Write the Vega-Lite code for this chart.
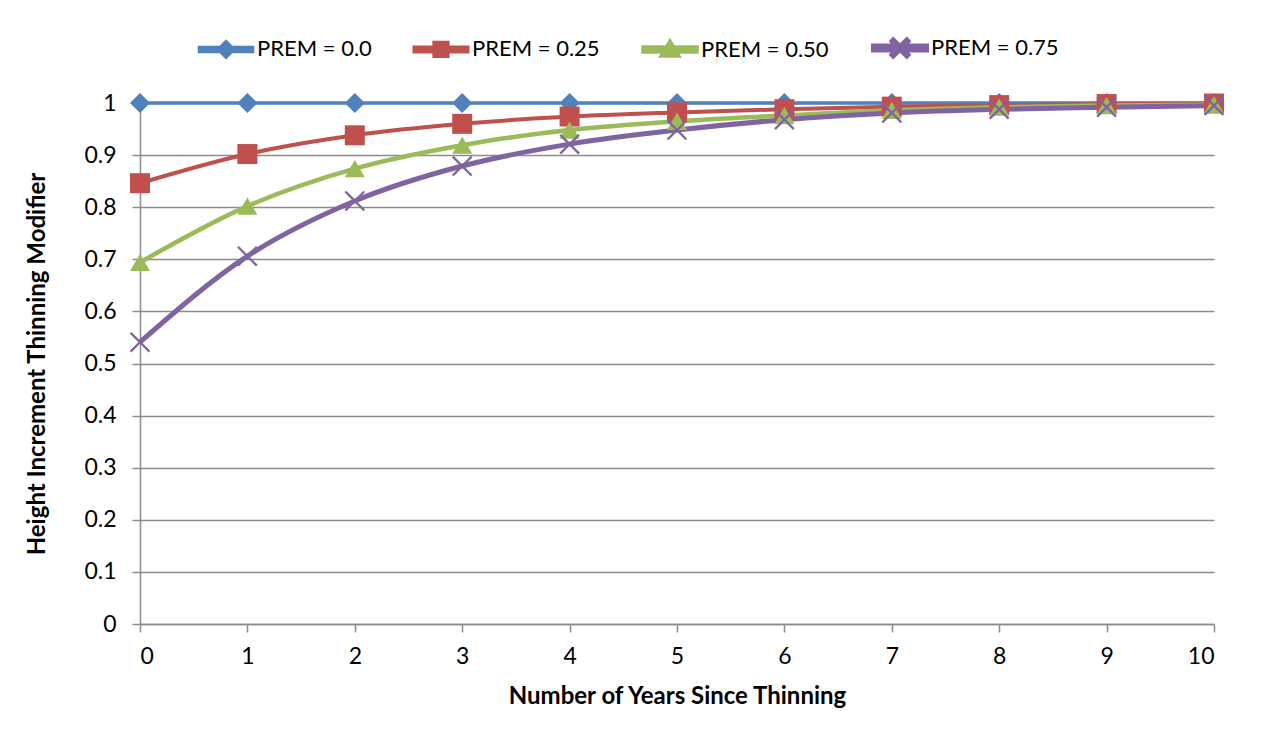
{
  "$schema": "https://vega.github.io/schema/vega-lite/v6.json",
  "autosize": "none",
  "width": 1074,
  "height": 521,
  "padding": {"left": 140, "top": 103, "right": 47, "bottom": 123},
  "background": "white",
  "config": {
    "view": {"stroke": null},
    "font": "Lato",
    "axis": {
      "labelFont": "Lato",
      "labelFontSize": 23,
      "labelColor": "#000000",
      "titleFont": "Lato",
      "titleFontSize": 24,
      "titleFontWeight": "bold",
      "titleColor": "#000000",
      "domainColor": "#8c8c8c",
      "domainWidth": 1.5,
      "tickColor": "#8c8c8c",
      "tickWidth": 1.5,
      "tickSize": 8,
      "gridColor": "#8c8c8c",
      "gridWidth": 1.5,
      "gridOpacity": 1
    }
  },
  "data": {
    "values": [
      {"years": 0, "series": "PREM = 0.0", "modifier": 1},
      {"years": 1, "series": "PREM = 0.0", "modifier": 1},
      {"years": 2, "series": "PREM = 0.0", "modifier": 1},
      {"years": 3, "series": "PREM = 0.0", "modifier": 1},
      {"years": 4, "series": "PREM = 0.0", "modifier": 1},
      {"years": 5, "series": "PREM = 0.0", "modifier": 1},
      {"years": 6, "series": "PREM = 0.0", "modifier": 1},
      {"years": 7, "series": "PREM = 0.0", "modifier": 1},
      {"years": 8, "series": "PREM = 0.0", "modifier": 1},
      {"years": 9, "series": "PREM = 0.0", "modifier": 1},
      {"years": 10, "series": "PREM = 0.0", "modifier": 1},
      {"years": 0, "series": "PREM = 0.25", "modifier": 0.846},
      {"years": 1, "series": "PREM = 0.25", "modifier": 0.902},
      {"years": 2, "series": "PREM = 0.25", "modifier": 0.938},
      {"years": 3, "series": "PREM = 0.25", "modifier": 0.960},
      {"years": 4, "series": "PREM = 0.25", "modifier": 0.974},
      {"years": 5, "series": "PREM = 0.25", "modifier": 0.982},
      {"years": 6, "series": "PREM = 0.25", "modifier": 0.988},
      {"years": 7, "series": "PREM = 0.25", "modifier": 0.993},
      {"years": 8, "series": "PREM = 0.25", "modifier": 0.996},
      {"years": 9, "series": "PREM = 0.25", "modifier": 0.998},
      {"years": 10, "series": "PREM = 0.25", "modifier": 0.999},
      {"years": 0, "series": "PREM = 0.50", "modifier": 0.694},
      {"years": 1, "series": "PREM = 0.50", "modifier": 0.802},
      {"years": 2, "series": "PREM = 0.50", "modifier": 0.874},
      {"years": 3, "series": "PREM = 0.50", "modifier": 0.919},
      {"years": 4, "series": "PREM = 0.50", "modifier": 0.948},
      {"years": 5, "series": "PREM = 0.50", "modifier": 0.965},
      {"years": 6, "series": "PREM = 0.50", "modifier": 0.976},
      {"years": 7, "series": "PREM = 0.50", "modifier": 0.986},
      {"years": 8, "series": "PREM = 0.50", "modifier": 0.992},
      {"years": 9, "series": "PREM = 0.50", "modifier": 0.995},
      {"years": 10, "series": "PREM = 0.50", "modifier": 0.997},
      {"years": 0, "series": "PREM = 0.75", "modifier": 0.541},
      {"years": 1, "series": "PREM = 0.75", "modifier": 0.706},
      {"years": 2, "series": "PREM = 0.75", "modifier": 0.812},
      {"years": 3, "series": "PREM = 0.75", "modifier": 0.879},
      {"years": 4, "series": "PREM = 0.75", "modifier": 0.921},
      {"years": 5, "series": "PREM = 0.75", "modifier": 0.948},
      {"years": 6, "series": "PREM = 0.75", "modifier": 0.968},
      {"years": 7, "series": "PREM = 0.75", "modifier": 0.981},
      {"years": 8, "series": "PREM = 0.75", "modifier": 0.988},
      {"years": 9, "series": "PREM = 0.75", "modifier": 0.992},
      {"years": 10, "series": "PREM = 0.75", "modifier": 0.995}
    ]
  },
  "encoding": {
    "x": {
      "field": "years",
      "type": "quantitative",
      "scale": {"domain": [0, 10], "nice": false},
      "axis": {
        "title": "Number of Years Since Thinning",
        "values": [0, 1, 2, 3, 4, 5, 6, 7, 8, 9, 10],
        "grid": false,
        "labelPadding": 13,
        "titlePadding": 16
      }
    },
    "y": {
      "field": "modifier",
      "type": "quantitative",
      "scale": {"domain": [0, 1], "nice": false},
      "axis": {
        "title": "Height Increment Thinning Modifier",
        "values": [0, 0.1, 0.2, 0.3, 0.4, 0.5, 0.6, 0.7, 0.8, 0.9, 1],
        "format": "~g",
        "grid": true,
        "labelPadding": 16,
        "titlePadding": 34
      }
    },
    "color": {
      "field": "series",
      "type": "nominal",
      "scale": {
        "domain": ["PREM = 0.0", "PREM = 0.25", "PREM = 0.50", "PREM = 0.75"],
        "range": ["#4F81BD", "#C0504D", "#9BBB59", "#8064A2"]
      }
    }
  },
  "layer": [
    {
      "mark": {"type": "line", "interpolate": "monotone"},
      "encoding": {
        "strokeWidth": {
          "field": "series",
          "type": "nominal",
          "scale": {
            "domain": ["PREM = 0.0", "PREM = 0.25", "PREM = 0.50", "PREM = 0.75"],
            "range": [3.5, 5, 5, 5.5]
          },
          "legend": null
        },
        "color": {
          "field": "series",
          "type": "nominal",
          "legend": {
            "title": null,
            "orient": "none",
            "direction": "horizontal",
            "columns": 4,
            "legendX": 57,
            "legendY": -84,
            "padding": 0,
            "symbolSize": 2809,
            "labelFont": "Lato",
            "labelFontSize": 22,
            "labelColor": "#000000",
            "labelOffset": 2,
            "columnPadding": 34,
            "encode": {
              "symbols": {
                "update": {
                  "shape": {"signal": "datum.value === 'PREM = 0.0' ? 'M-1,-0.075L1,-0.075L1,0.075L-1,0.075Z M0,-0.29L0.29,0L0,0.29L-0.29,0Z' : datum.value === 'PREM = 0.25' ? 'M-1,-0.075L1,-0.075L1,0.075L-1,0.075Z M-0.25,-0.25L0.25,-0.25L0.25,0.25L-0.25,0.25Z' : datum.value === 'PREM = 0.50' ? 'M-1,-0.075L1,-0.075L1,0.075L-1,0.075Z M0,-0.28L0.3,0.22L-0.3,0.22Z' : 'M-1,-0.075L1,-0.075L1,0.075L-1,0.075Z M-0.3,-0.255L-0.255,-0.3L0,-0.045L0.255,-0.3L0.3,-0.255L0.045,0L0.3,0.255L0.255,0.3L0,0.045L-0.255,0.3L-0.3,0.255L-0.045,0Z'"},
                  "fill": {"scale": "color", "field": "value"},
                  "stroke": {"value": "transparent"},
                  "strokeWidth": {"value": 0},
                  "size": {"value": 2809},
                  "opacity": {"value": 1}
                }
              }
            }
          }
        }
      }
    },
    {
      "transform": [{"filter": "datum.series === 'PREM = 0.0'"}],
      "mark": {"type": "point", "filled": true, "opacity": 1, "size": 400, "shape": "diamond"}
    },
    {
      "transform": [{"filter": "datum.series === 'PREM = 0.25'"}],
      "mark": {"type": "point", "filled": true, "opacity": 1, "size": 400, "shape": "square"}
    },
    {
      "transform": [{"filter": "datum.series === 'PREM = 0.50'"}],
      "mark": {"type": "point", "filled": true, "opacity": 1, "size": 400, "shape": "triangle-up"}
    },
    {
      "transform": [{"filter": "datum.series === 'PREM = 0.75'"}],
      "mark": {
        "type": "point",
        "filled": true,
        "opacity": 1,
        "size": 420,
        "shape": "M-1,-0.84L-0.84,-1L0,-0.16L0.84,-1L1,-0.84L0.16,0L1,0.84L0.84,1L0,0.16L-0.84,1L-1,0.84L-0.16,0Z"
      }
    }
  ]
}
